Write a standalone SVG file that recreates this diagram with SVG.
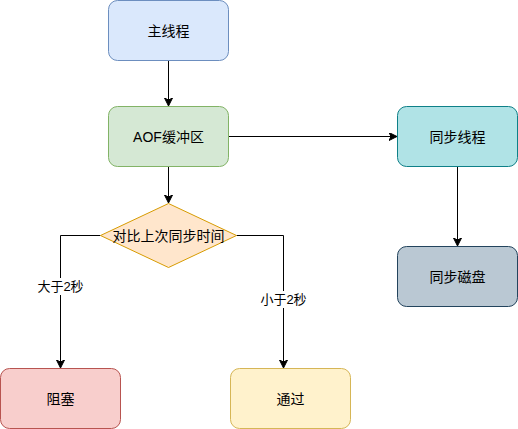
<svg xmlns="http://www.w3.org/2000/svg" width="518" height="429" viewBox="0 0 518 429">
<style>
.n rect, .n path { stroke-width: 1; }
.t { font-family: "Liberation Sans", "Noto Sans CJK SC", sans-serif; font-size: 14px; fill: #000; text-anchor: middle; dominant-baseline: central; }
.e { fill: none; stroke: #000; stroke-width: 1; marker-end: url(#arr); }
.lbl { font-family: "Liberation Sans", "Noto Sans CJK SC", sans-serif; font-size: 13px; fill: #000; text-anchor: middle; dominant-baseline: central; }
</style>
<defs>
<marker id="arr" markerWidth="10" markerHeight="10" refX="7" refY="4" orient="auto" markerUnits="userSpaceOnUse">
<path d="M0,0 L8,4 L0,8 L2,4 Z" fill="#000" stroke="#000" stroke-width="1"/>
</marker>
</defs>
<rect width="518" height="429" fill="#fff"/>
<g id="connectors">
<path class="e" d="M168.5,60.5 L168.5,105"/>
<path class="e" d="M228.5,136.5 L396,136.5"/>
<path class="e" d="M457.5,166.5 L457.5,245"/>
<path class="e" d="M168.5,166.5 L168.5,202"/>
<path class="e" d="M100.5,235.5 L60.5,235.5 L60.5,367"/>
<path class="e" d="M236.5,235.5 L283.5,235.5 L283.5,367"/>
<rect x="34" y="278" width="53" height="17" fill="#fff"/>
<text class="lbl" x="60.5" y="286.5">大于2秒</text>
<rect x="257" y="291" width="53" height="17" fill="#fff"/>
<text class="lbl" x="283.5" y="299.5">小于2秒</text>
</g>
<g id="main" class="n">
<rect x="108.5" y="0.5" width="120" height="60" rx="9" fill="#dae8fc" stroke="#6c8ebf"/>
<text class="t" x="168.5" y="30.5">主线程</text>
</g>
<g id="aof" class="n">
<rect x="108.5" y="106.5" width="120" height="60" rx="9" fill="#d5e8d4" stroke="#82b366"/>
<text class="t" x="168.5" y="136.5">AOF缓冲区</text>
</g>
<g id="sync" class="n">
<rect x="397.5" y="106.5" width="120" height="60" rx="9" fill="#b0e3e6" stroke="#0e8088"/>
<text class="t" x="457.5" y="136.5">同步线程</text>
</g>
<g id="disk" class="n">
<rect x="397.5" y="246.5" width="120" height="60" rx="9" fill="#bac8d3" stroke="#23445d"/>
<text class="t" x="457.5" y="276.5">同步磁盘</text>
</g>
<g id="decision" class="n">
<path d="M168.5,203.5 L236.5,235.5 L168.5,267.5 L100.5,235.5 Z" fill="#ffe6cc" stroke="#d79b00"/>
<text class="t" x="168.5" y="235.5">对比上次同步时间</text>
</g>
<g id="block" class="n">
<rect x="0.5" y="368.5" width="120" height="60" rx="9" fill="#f8cecc" stroke="#b85450"/>
<text class="t" x="60.5" y="398.5">阻塞</text>
</g>
<g id="pass" class="n">
<rect x="230.5" y="368.5" width="120" height="60" rx="9" fill="#fff2cc" stroke="#d6b656"/>
<text class="t" x="290.5" y="398.5">通过</text>
</g>
</svg>
